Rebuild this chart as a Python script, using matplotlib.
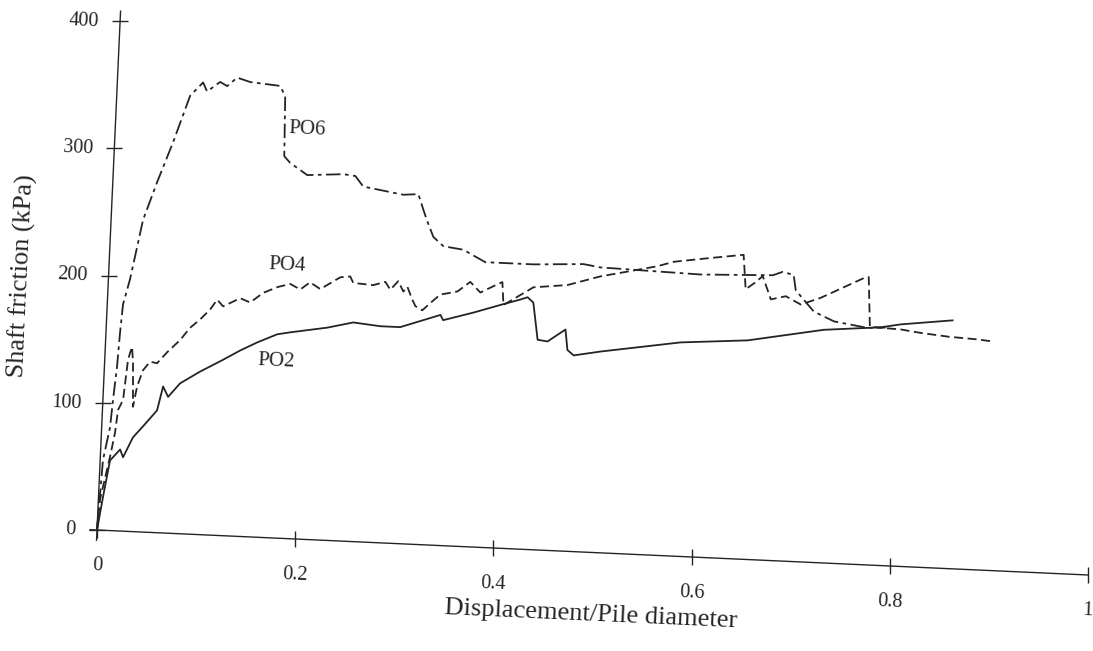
import matplotlib.pyplot as plt
from matplotlib.markers import MarkerStyle
from matplotlib.transforms import Affine2D

plt.rcParams['font.family'] = ['Liberation Serif', 'DejaVu Serif']

# shaft friction (kPa) vs displacement / pile diameter
po2_x = [0, 0.0045, 0.0099, 0.0196, 0.0229, 0.032, 0.0416, 0.055, 0.060, 0.0655,
         0.0769, 0.0966, 0.119, 0.136, 0.153, 0.1725, 0.1855, 0.2226, 0.2486, 0.276,
         0.296, 0.336, 0.339, 0.369, 0.396, 0.416, 0.423, 0.429, 0.435, 0.445,
         0.4626, 0.4655, 0.472, 0.499, 0.579, 0.6466, 0.7227, 0.780, 0.800, 0.852]
po2_y = [0, 26, 55, 64, 58, 74, 83, 96, 115, 107,
         118, 128, 138, 146, 153, 160, 162, 167, 172, 170,
         170, 181, 177, 184, 191, 196, 198, 194, 165, 164,
         174, 158, 154, 158, 168, 172, 183, 187, 190, 195]

po4_x = [0, 0.0016, 0.0098, 0.0137, 0.0157, 0.0203, 0.0235, 0.0269, 0.0286, 0.0306,
         0.0338, 0.039, 0.0458, 0.0528, 0.0625, 0.075, 0.0845, 0.0943, 0.1038, 0.1105,
         0.1168, 0.1336, 0.1438, 0.1565, 0.1704, 0.1833, 0.1937, 0.2033, 0.2138, 0.2335,
         0.2434, 0.2468, 0.267, 0.279, 0.2844, 0.292, 0.2976, 0.3014, 0.307, 0.3104,
         0.3175, 0.3253, 0.335, 0.352, 0.3646, 0.3752, 0.387, 0.3969, 0.399, 0.4127,
         0.4284, 0.4626, 0.4955, 0.5185, 0.5525, 0.5683, 0.6025, 0.6386, 0.6422, 0.652,
         0.6588, 0.668, 0.683, 0.6984, 0.7182, 0.7607, 0.7656, 0.769, 0.8003, 0.8207,
         0.849, 0.8764, 0.8916]
po4_y = [0, 24, 58, 77, 95, 103, 135, 145, 133, 98,
         114, 127, 134, 133, 142, 152, 162, 169, 177, 185,
         180, 187, 184, 192, 197, 200, 196, 202, 197, 207,
         208, 203, 202, 205, 199, 206, 198, 202, 192, 187,
         184, 190, 197, 200, 208, 200, 205, 209, 191, 198,
         206, 209, 217, 221, 227, 231, 235, 239, 212, 218,
         223, 205, 208, 202, 208, 225, 226, 187, 186, 184,
         182, 181, 180]

po6_x = [0, 0.0028, 0.0084, 0.0102, 0.0127, 0.0142, 0.0159, 0.0218, 0.0322, 0.0446,
         0.0589, 0.0739, 0.0864, 0.0908, 0.1035, 0.1108, 0.1205, 0.1338, 0.1642, 0.1697,
         0.1715, 0.1777, 0.1955, 0.2318, 0.244, 0.2524, 0.2931, 0.3083, 0.314, 0.3185,
         0.3253, 0.3359, 0.3562, 0.3686, 0.3788, 0.4274, 0.4778, 0.495, 0.5456, 0.5962,
         0.6689, 0.6787, 0.6899, 0.6927, 0.7118, 0.7325, 0.767, 0.785]
po6_y = [0, 55, 81, 103, 129, 156, 178, 198, 245, 275,
         307, 344, 355, 348, 356, 353, 360, 357, 355, 347,
         300, 295, 286, 288, 287, 279, 274, 275, 263, 254,
         242, 235, 233, 228, 224, 224, 226, 224, 223, 222,
         224, 227, 225, 213, 197, 190, 186, 187]

x_ticks = [0, 0.2, 0.4, 0.6, 0.8, 1]
x_tick_labels = ["0", "0.2", "0.4", "0.6", "0.8", "1"]
y_ticks = [0, 100, 200, 300, 400]
y_tick_labels = ["0", "100", "200", "300", "400"]

# where the curve names sit (data units)
label_names = ["PO6", "PO4", "PO2"]
label_x = [0.174, 0.160, 0.154]
label_y = [321, 214, 138]

INK = "#242424"
TILT = 2.6  # the scanned page is turned a little clockwise

fig = plt.figure(figsize=(10.93, 6.51), dpi=100)
ax = fig.add_axes([0, 0, 1, 1])
ax.set_xlim(0, 1093)
ax.set_ylim(651, 0)
ax.axis("off")

# data -> page pixels (rotated frame)
page = Affine2D().scale(992, -1.273).rotate_deg(TILT).translate(97, 530) + ax.transData

# axes
ax.plot([-0.007, 1.0], [0, 0], color=INK, lw=1.0, transform=page)
ax.plot([0, 0], [-8, 408], color=INK, lw=1.0, transform=page)

xtick_mark = MarkerStyle("|", transform=Affine2D().rotate_deg(-TILT))
ytick_mark = MarkerStyle("_", transform=Affine2D().rotate_deg(-TILT))
ax.plot(x_ticks, [0] * len(x_ticks), ls="none", marker=xtick_mark, ms=11,
        mew=1.0, color=INK, transform=page)
ax.plot([0] * len(y_ticks), y_ticks, ls="none", marker=ytick_mark, ms=11,
        mew=1.0, color=INK, transform=page)

for t, lab in zip(x_ticks, x_tick_labels):
    ax.annotate(lab, (t, 0), xycoords=page, xytext=(0, -26),
                textcoords="offset pixels", ha="center", va="top",
                rotation=-TILT, fontsize=14.5, color=INK)
for t, lab in zip(y_ticks, y_tick_labels):
    ax.annotate(lab, (0, t), xycoords=page, xytext=(-21, 0),
                textcoords="offset pixels", ha="right", va="center",
                rotation=-TILT, fontsize=14.5, color=INK)

# curves
ax.plot(po2_x, po2_y, color=INK, lw=1.3, transform=page)
ax.plot(po4_x, po4_y, color=INK, lw=1.3, dashes=(5, 2.5), transform=page)
ax.plot(po6_x, po6_y, color=INK, lw=1.3, dashes=(8, 2.5, 2, 2.5), transform=page)

for name, lx, ly in zip(label_names, label_x, label_y):
    ax.annotate(name, (lx, ly), xycoords=page, ha="left", va="center",
                rotation=-TILT, fontsize=15, color=INK)

# axis titles
ax.text(591, 615, "Displacement/Pile diameter", ha="center", va="center",
        rotation=-TILT, fontsize=19, color=INK)
ax.text(22, 276, "Shaft friction (kPa)", ha="center", va="center",
        rotation=90 - TILT, fontsize=19, color=INK)

fig.savefig("out.png", dpi=100)
